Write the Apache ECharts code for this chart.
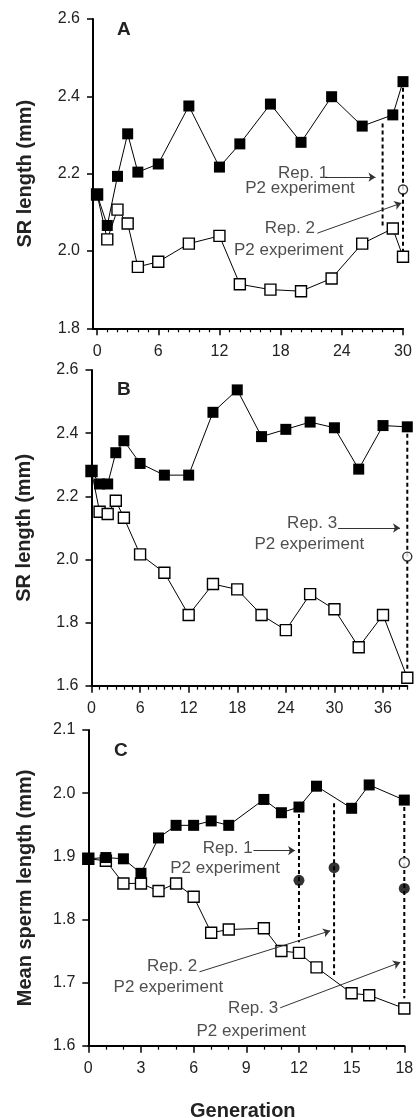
<!DOCTYPE html>
<html>
<head>
<meta charset="utf-8">
<script src="https://cdn.jsdelivr.net/npm/echarts@6/dist/echarts.min.js"></script>
<style>
html,body{margin:0;padding:0;background:#fff;}
#chart{width:417px;height:1118px;}
</style>
</head>
<body>
<div id="chart"></div>
<script>
// ---------- Panel A ----------
const genA = [0,1,2,3,4,6,9,12,14,17,20,23,26,29,30];
const filledA = [2.146,2.066,2.193,2.303,2.204,2.225,2.375,2.217,2.277,2.380,2.281,2.399,2.323,2.352,2.438];
const openA = [2.146,2.030,2.107,2.071,1.959,1.972,2.019,2.039,1.914,1.900,1.896,1.929,2.019,2.058,1.985];
const circleOpenA = [[30,2.159]];
const dashA = [[[28,2.33],[28,2.06]], [[30,2.44],[30,2.0]]];
const arrowsA = [[[22.35,2.191],[27.3,2.191]], [[21.6,2.046],[29.85,2.124]]];
const textA = [['Rep. 1',20.2,2.200],['P2 experiment',19.9,2.162],['Rep. 2',18.9,2.058],['P2 experiment',18.8,2.002]];
const xTicksA = [0,6,12,18,24,30];
const yTicksA = {min:1.8,max:2.6,step:0.2};

// ---------- Panel B ----------
const genB = [0,1,2,3,4,6,9,12,15,18,21,24,27,30,33,36,39];
const filledB = [2.280,2.239,2.239,2.338,2.376,2.304,2.267,2.267,2.466,2.537,2.389,2.412,2.435,2.417,2.286,2.424,2.420];
const openB = [2.280,2.151,2.144,2.186,2.132,2.016,1.958,1.824,1.922,1.905,1.824,1.776,1.890,1.842,1.722,1.824,1.625];
const circleOpenB = [[39,2.009]];
const dashB = [[[39,2.42],[39,1.65]]];
const arrowsB = [[[30.46,2.0995],[38.1,2.0995]]];
const textB = [['Rep. 3',27.25,2.114],['P2 experiment',26.9,2.049]];
const xTicksB = [0,6,12,18,24,30,36];
const yTicksB = {min:1.6,max:2.6,step:0.2};

// ---------- Panel C ----------
const genC = [0,1,2,3,4,5,6,7,8,10,11,12,13,15,16,18];
const filledC = [1.896,1.898,1.896,1.873,1.929,1.949,1.949,1.956,1.949,1.990,1.969,1.978,2.011,1.976,2.013,1.989];
const openC = [1.896,1.893,1.857,1.857,1.845,1.857,1.836,1.779,1.784,1.786,1.750,1.747,1.724,1.683,1.680,1.659];
const circleFilledC = [[12,1.862],[14,1.882],[18,1.849]];
const circleOpenC = [[18,1.890]];
const dashC = [[[12,1.978],[12,1.764]], [[14,1.984],[14,1.712]], [[18,1.989],[18,1.675]]];
const arrowsC = [[[9.41,1.909],[11.78,1.909]], [[6.33,1.717],[13.78,1.782]], [[10.93,1.660],[17.77,1.732]]];
const textC = [['Rep. 1',7.94,1.9125],['P2 experiment',7.79,1.881],['Rep. 2',4.77,1.726],['P2 experiment',4.56,1.693],['Rep. 3',9.39,1.659],['P2 experiment',9.28,1.623]];
const xTicksC = [0,3,6,9,12,15,18];
const yTicksC = {min:1.6,max:2.1,step:0.1};

const FONT = 'Liberation Sans, Arial, sans-serif';
const TXT = '#222';

function minorTicks(xmin, xmax, majors){
  const out=[];
  for(let v=Math.ceil(xmin); v<=xmax; v++){ if(majors.indexOf(v)<0) out.push(v); }
  return out;
}

const panels = [
  {gen:genA, filled:filledA, open:openA, cOpen:circleOpenA, cFilled:[], dash:dashA, arrows:arrowsA, texts:textA,
   xmin:-0.4, xmax:30, xTicks:xTicksA, y:yTicksA, grid:{left:93, right:14, top:19, height:309.3}, yname:'SR length (mm)', nameGap:58},
  {gen:genB, filled:filledB, open:openB, cOpen:circleOpenB, cFilled:[], dash:dashB, arrows:arrowsB, texts:textB,
   xmin:0, xmax:39, xTicks:xTicksB, y:yTicksB, grid:{left:91.5, right:9.7, top:370, height:315.7}, yname:'SR length (mm)', nameGap:57},
  {gen:genC, filled:filledC, open:openC, cOpen:circleOpenC, cFilled:circleFilledC, dash:dashC, arrows:arrowsC, texts:textC,
   xmin:0, xmax:18, xTicks:xTicksC, y:yTicksC, grid:{left:88.3, right:12.7, top:730, height:315.7}, yname:'Mean sperm length (mm)', nameGap:53}
];

const grids=[], xAxes=[], yAxes=[], series=[];
panels.forEach((p,i)=>{
  grids.push(Object.assign({}, p.grid));
  xAxes.push({
    type:'value', gridIndex:i, min:p.xmin, max:p.xmax, position:'bottom',
    axisLine:{show:true, onZero:false, lineStyle:{color:'#000', width:2}},
    axisTick:{show:true, customValues:p.xTicks, length:7, lineStyle:{color:'#000', width:1.5}},
    axisLabel:{show:true, customValues:p.xTicks, margin:15, fontFamily:FONT, fontSize:16, color:TXT},
    splitLine:{show:false}
  });
  xAxes.push({
    type:'value', gridIndex:i, min:p.xmin, max:p.xmax, position:'bottom',
    axisLine:{show:false, onZero:false},
    axisTick:{show:true, customValues:minorTicks(p.xmin,p.xmax,p.xTicks), length:4, lineStyle:{color:'#000', width:1.2}},
    axisLabel:{show:false},
    splitLine:{show:false}
  });
  yAxes.push({
    type:'value', gridIndex:i, min:p.y.min, max:p.y.max, interval:p.y.step,
    name:p.yname, nameLocation:'middle', nameGap:p.nameGap,
    nameTextStyle:{fontFamily:FONT, fontSize:20, fontWeight:'bold', color:TXT},
    axisLine:{show:true, onZero:false, lineStyle:{color:'#000', width:2}},
    axisTick:{show:true, length:6, lineStyle:{color:'#000', width:1.5}},
    axisLabel:{margin:13, fontFamily:FONT, fontSize:16, color:TXT, formatter:v=>v.toFixed(1)},
    splitLine:{show:false}
  });
  const xi = i*2, yi = i;
  p.dash.forEach(seg=>{
    series.push({type:'line', xAxisIndex:xi, yAxisIndex:yi, data:seg, symbol:'none', z:1, silent:true,
      lineStyle:{color:'#000', width:2, type:[4,3]}});
  });
  series.push({type:'line', xAxisIndex:xi, yAxisIndex:yi, z:2,
    data:p.gen.map((g,k)=>[g,p.open[k]]), symbol:'rect', symbolSize:11,
    lineStyle:{color:'#000', width:1}, itemStyle:{color:'#fff', borderColor:'#000', borderWidth:1.4}});
  series.push({type:'line', xAxisIndex:xi, yAxisIndex:yi, z:3,
    data:p.gen.map((g,k)=>[g,p.filled[k]]), symbol:'rect', symbolSize:11,
    lineStyle:{color:'#000', width:1}, itemStyle:{color:'#000', borderColor:'#000', borderWidth:0}});
  if(p.cFilled.length) series.push({type:'scatter', xAxisIndex:xi, yAxisIndex:yi, z:4,
    data:p.cFilled, symbol:'circle', symbolSize:11, itemStyle:{color:'#000'}});
  series.push({type:'scatter', xAxisIndex:xi, yAxisIndex:yi, z:4,
    data:p.cOpen, symbol:'circle', symbolSize: i===2?10:9, itemStyle:{color:'#fff', borderColor:'#000', borderWidth:1.4}});
  series.push({type:'lines', coordinateSystem:'cartesian2d', xAxisIndex:xi, yAxisIndex:yi, z:5,
    data:p.arrows.map(a=>({coords:a})), symbol:['none','arrow'], symbolSize:[0,7],
    lineStyle:{color:'#333', width:1, opacity:1}});
  series.push({type:'scatter', xAxisIndex:xi, yAxisIndex:yi, z:6, silent:true,
    data:p.texts.map(t=>({name:t[0], value:[t[1],t[2]]})), symbolSize:1,
    itemStyle:{color:'rgba(0,0,0,0)'},
    label:{show:true, position:'inside', formatter:'{b}', fontFamily:FONT, fontSize:17, color:TXT}});
});

const chart = echarts.init(document.getElementById('chart'), null, {renderer:'canvas'});
chart.setOption({
  animation:false,
  backgroundColor:'#fff',
  grid:grids, xAxis:xAxes, yAxis:yAxes, series:series,
  title:[
    {text:'A', left:112, top:15, textStyle:{fontFamily:FONT, fontSize:19, fontWeight:'bold', color:TXT}},
    {text:'B', left:112, top:375, textStyle:{fontFamily:FONT, fontSize:19, fontWeight:'bold', color:TXT}},
    {text:'C', left:109, top:736, textStyle:{fontFamily:FONT, fontSize:19, fontWeight:'bold', color:TXT}},
    {text:'Generation', left:185, top:1096, textStyle:{fontFamily:FONT, fontSize:20, fontWeight:'bold', color:TXT}}
  ]
});
</script>
</body>
</html>
